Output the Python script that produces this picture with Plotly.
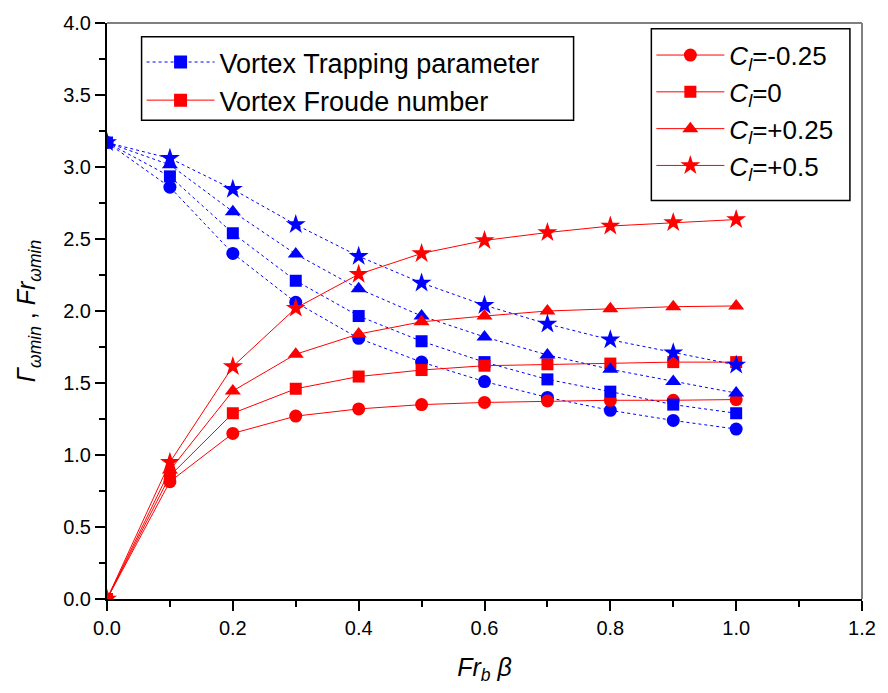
import plotly.graph_objects as go

x = [0.0, 0.1, 0.2, 0.3, 0.4, 0.5, 0.6, 0.7, 0.8, 0.9, 1.0]

cl_labels = ["-0.25", "0", "+0.25", "+0.5"]
symbols = ["circle", "square", "triangle-up", "star"]
sizes = [13, 12, 14, 15]

# Vortex trapping parameter (blue, dotted)
trap_m025 = [3.17, 2.86, 2.40, 2.06, 1.81, 1.645, 1.51, 1.40, 1.31, 1.24, 1.18]
trap_0 = [3.17, 2.935, 2.54, 2.21, 1.965, 1.79, 1.645, 1.525, 1.44, 1.35, 1.29]
trap_p025 = [3.17, 3.015, 2.69, 2.395, 2.155, 1.965, 1.82, 1.695, 1.595, 1.51, 1.43]
trap_p05 = [3.17, 3.06, 2.845, 2.60, 2.38, 2.195, 2.04, 1.91, 1.80, 1.71, 1.625]

# Vortex Froude number (red, solid)
fr_m025 = [0.0, 0.815, 1.15, 1.27, 1.32, 1.35, 1.365, 1.375, 1.38, 1.38, 1.385]
fr_0 = [0.0, 0.855, 1.29, 1.46, 1.545, 1.59, 1.62, 1.63, 1.635, 1.645, 1.645]
fr_p025 = [0.0, 0.895, 1.445, 1.70, 1.84, 1.925, 1.965, 2.0, 2.015, 2.03, 2.035]
fr_p05 = [0.0, 0.95, 1.615, 2.02, 2.255, 2.40, 2.49, 2.545, 2.59, 2.615, 2.635]

trap = [trap_m025, trap_0, trap_p025, trap_p05]
froude = [fr_m025, fr_0, fr_p025, fr_p05]

FONT = "Arial, Liberation Sans, sans-serif"
BLUE = "#0000ff"
RED = "#ff0000"

fig = go.Figure()

for i in range(4):
    fig.add_trace(go.Scatter(
        x=x, y=trap[i], mode="lines+markers",
        line=dict(color=BLUE, width=1, dash="dot"),
        marker=dict(symbol=symbols[i], size=sizes[i], color=BLUE),
        showlegend=False,
    ))
    fig.add_trace(go.Scatter(
        x=x, y=froude[i], mode="lines+markers",
        line=dict(color=RED, width=1),
        marker=dict(symbol=symbols[i], size=sizes[i], color=RED),
        name="<i>C</i><sub><i>l</i></sub>=" + cl_labels[i],
        legend="legend2",
    ))

# Legend-only entries for the quantity legend
fig.add_trace(go.Scatter(
    x=[None], y=[None], mode="lines+markers",
    line=dict(color=BLUE, width=1, dash="dot"),
    marker=dict(symbol="square", size=13, color=BLUE),
    name="Vortex Trapping parameter", legend="legend",
))
fig.add_trace(go.Scatter(
    x=[None], y=[None], mode="lines+markers",
    line=dict(color=RED, width=1),
    marker=dict(symbol="square", size=13, color=RED),
    name="Vortex Froude number", legend="legend",
))

axis_common = dict(
    showline=True, linecolor="black", linewidth=2, mirror=False,
    showgrid=False, zeroline=False,
    ticks="outside", ticklen=10, tickwidth=2, tickcolor="black",
    tickfont=dict(family=FONT, size=20, color="black"),
    ticklabeloverflow="allow",
)

fig.update_xaxes(
    range=[0, 1.2], dtick=0.2, tick0=0, tickformat=".1f",
    minor=dict(dtick=0.1, ticks="outside", ticklen=6, tickwidth=2, tickcolor="black"),
    title=dict(text="<i>Fr</i><sub><i>b</i></sub> <i>β</i>",
               font=dict(family=FONT, size=25, color="black"), standoff=20),
    **axis_common,
)
fig.update_yaxes(
    range=[0, 4.0], dtick=0.5, tick0=0, tickformat=".1f",
    minor=dict(dtick=0.25, ticks="outside", ticklen=6, tickwidth=2, tickcolor="black"),
    title=dict(text="<i>Γ</i><sub><i>ωmin</i></sub> , <i>Fr</i><sub><i>ωmin</i></sub>",
               font=dict(family=FONT, size=25, color="black"), standoff=20),
    **axis_common,
)

# gray frame on top and right
fig.add_shape(type="line", xref="paper", yref="paper", x0=0, x1=1, y0=1, y1=1,
              line=dict(color="#7f7f7f", width=2), layer="above")
fig.add_shape(type="line", xref="paper", yref="paper", x0=1, x1=1, y0=0, y1=1,
              line=dict(color="#7f7f7f", width=2), layer="above")

# legend frames (boxes wider than the text, as in the reference)
fig.add_shape(type="rect", xref="paper", yref="paper",
              x0=0.0458, x1=0.618, y0=0.831, y1=0.976,
              line=dict(color="black", width=1.5), fillcolor="white", layer="above")
fig.add_shape(type="rect", xref="paper", yref="paper",
              x0=0.721, x1=0.984, y0=0.692, y1=0.990,
              line=dict(color="black", width=1.5), fillcolor="white", layer="above")

fig.update_layout(
    width=888, height=693,
    margin=dict(l=107, r=17, t=18, b=94),
    paper_bgcolor="white", plot_bgcolor="white",
    font=dict(family=FONT, color="black"),
    legend=dict(
        x=0.0458, y=0.974, xanchor="left", yanchor="top",
        borderwidth=0, bgcolor="rgba(0,0,0,0)",
        font=dict(family=FONT, size=27, color="black"),
        itemwidth=68, tracegroupgap=0,
    ),
    legend2=dict(
        x=0.721, y=0.985, xanchor="left", yanchor="top",
        borderwidth=0, bgcolor="rgba(0,0,0,0)",
        font=dict(family=FONT, size=26, color="black"),
        itemwidth=68, tracegroupgap=0,
    ),
)

fig.write_html("out.html", config={"displayModeBar": False},
               post_script="document.body.style.margin='0';")
